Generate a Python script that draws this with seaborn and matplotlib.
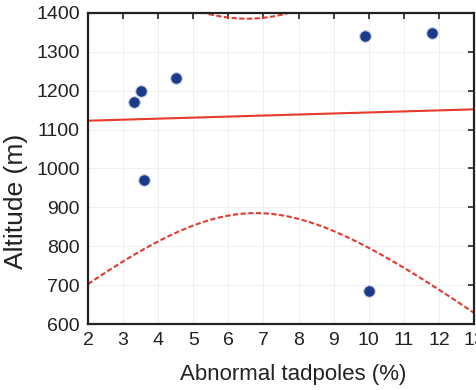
import numpy as np
import matplotlib
matplotlib.use("Agg")
import matplotlib.pyplot as plt
import seaborn as sns

# data
abnormal_pct = [3.3, 3.5, 4.5, 3.6, 9.9, 11.8, 10.0]
altitude_m = [1172, 1200, 1232, 970, 1340, 1348, 685]
x_ticks = list(range(2, 14))
y_ticks = list(range(600, 1401, 100))

red = "#e53a2c"
navy = "#1b3b8a"

sns.set_style("white")
plt.rcParams["font.family"] = ["Liberation Sans", "DejaVu Sans"]

fig = plt.figure(figsize=(4.77, 3.90), dpi=100)
ax = fig.add_axes([0.1845, 0.1692, 0.8092, 0.7975])
ax.set_xlim(2, 13)
ax.set_ylim(600, 1400)

# linear fit + 95% confidence band of the mean (dashed)
x = np.array(abnormal_pct, dtype=float)
y = np.array(altitude_m, dtype=float)
n = len(x)
slope, intercept = np.polyfit(x, y, 1)
resid = y - (slope * x + intercept)
s = np.sqrt((resid ** 2).sum() / (n - 2))
sxx = ((x - x.mean()) ** 2).sum()
t_crit = 2.5706  # t(0.975, df=5)
xs = np.linspace(2, 13, 200)
fit = slope * xs + intercept
half = t_crit * s * np.sqrt(1 / n + (xs - x.mean()) ** 2 / sxx)

sns.lineplot(x=xs, y=fit, color=red, lw=1.5, ax=ax)
sns.lineplot(x=xs, y=fit + half, color=red, lw=1.5, ax=ax, linestyle=(0, (2.5, 1.2)))
sns.lineplot(x=xs, y=fit - half, color=red, lw=1.5, ax=ax, linestyle=(0, (2.5, 1.2)))

sns.scatterplot(x=abnormal_pct, y=altitude_m, color=navy, s=70,
                edgecolor="#c8d0e4", linewidth=0.8, ax=ax, zorder=5)

ax.set_xticks(x_ticks)
ax.set_yticks(y_ticks)
ax.grid(True, color="#ececec", lw=0.6)
ax.tick_params(direction="in", length=4, width=1.2, color="#222222",
               top=True, right=True, labeltop=False, labelright=False,
               labelsize=14, labelcolor="#222222", pad=6)
for sp in ax.spines.values():
    sp.set_color("#222222")
    sp.set_linewidth(1.6)

ax.set_xlabel("Abnormal tadpoles (%)", fontsize=16, color="#222222")
ax.set_ylabel("Altitude (m)", fontsize=19, color="#222222")
ax.xaxis.set_label_coords(0.531, -0.13)
ax.yaxis.set_label_coords(-0.155, 0.395)

fig.savefig("out.png", dpi=100)
